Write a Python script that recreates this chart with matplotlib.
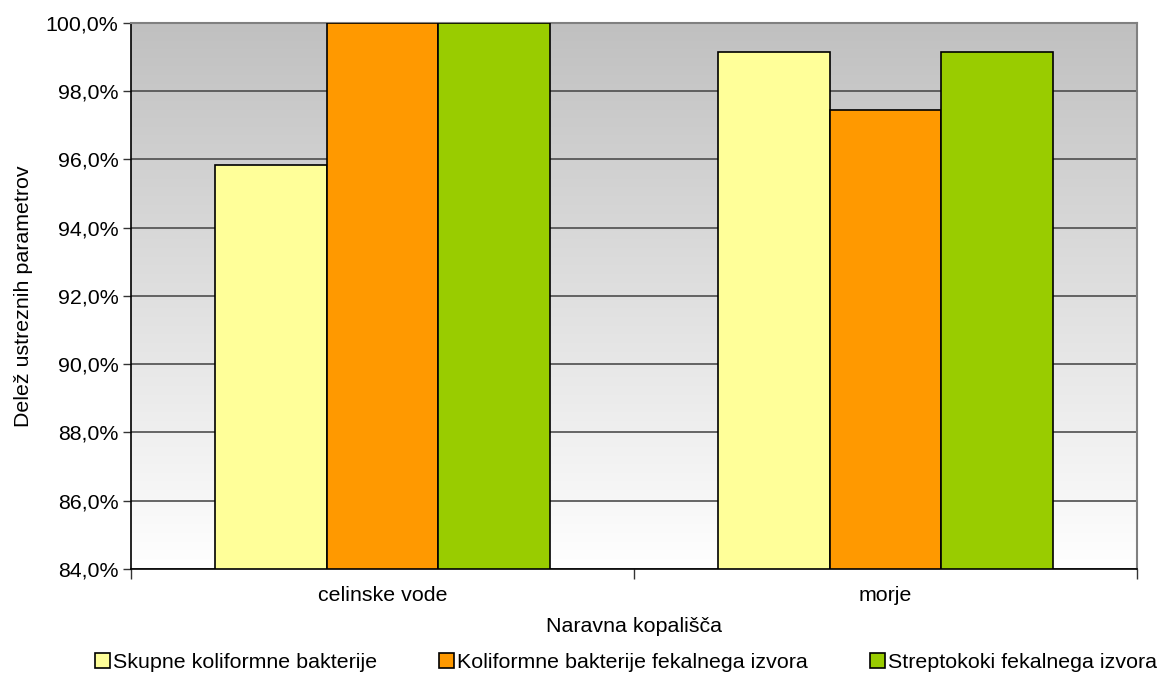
import matplotlib
matplotlib.use("Agg")
import matplotlib.pyplot as plt
import numpy as np
from matplotlib.ticker import FuncFormatter

plt.rcParams["font.family"] = ["Liberation Sans", "DejaVu Sans"]

# ---- Data ----
categories = ["celinske vode", "morje"]
series_names = ["Skupne koliformne bakterije",
                "Koliformne bakterije fekalnega izvora",
                "Streptokoki fekalnega izvora"]
values = [
    [95.83, 99.15],   # Skupne koliformne bakterije
    [100.0, 97.44],   # Koliformne bakterije fekalnega izvora
    [100.0, 99.15],   # Streptokoki fekalnega izvora
]
colors = ["#FFFF99", "#FF9900", "#99CC00"]
yticks = np.arange(84, 100.1, 2)

FS = 15.4

# ---- Plot ----
fig = plt.figure(figsize=(11.57, 6.74), dpi=100)
ax = fig.add_axes([0.1132, 0.1558, 0.8695, 0.8101])

# gradient background (grey top -> white bottom)
grad = np.linspace(192, 255, 256).reshape(-1, 1) / 255.0
ax.imshow(np.dstack([grad, grad, grad]), extent=[0, 1, 0, 1], transform=ax.transAxes,
          aspect="auto", origin="upper", zorder=-1)

centers = np.arange(len(categories)) + 0.5
w = 0.222
for i, (name, vals) in enumerate(zip(series_names, values)):
    ax.bar(centers + (i - 1) * w, np.array(vals) - 84, bottom=84, width=w,
           color=colors[i], edgecolor="black", linewidth=1.2, label=name, zorder=3)

ax.set_xlim(0, 2)
ax.set_ylim(84, 100)
ax.set_yticks(yticks)
ax.yaxis.set_major_formatter(FuncFormatter(lambda v, p: f"{v:.1f}%".replace(".", ",")))
ax.yaxis.grid(True, color="#4d4d4d", linewidth=1.2, zorder=1)
ax.set_axisbelow(True)

ax.set_xticks([0, 1, 2])
ax.set_xticklabels([])
ax.set_xticks(centers, minor=True)
ax.set_xticklabels(categories, minor=True)
ax.tick_params(axis="x", which="major", direction="out", length=7, width=1, color="#333333")
ax.tick_params(axis="x", which="minor", length=0, pad=12, labelsize=FS)
ax.tick_params(axis="y", direction="out", length=6, width=1, color="#333333",
               labelsize=FS, pad=3)

for s in ["top", "right"]:
    ax.spines[s].set_color("#808080")
    ax.spines[s].set_linewidth(1.5)
for s in ["left", "bottom"]:
    ax.spines[s].set_color("black")
    ax.spines[s].set_linewidth(1.2)

ax.set_xlabel("Naravna kopališča", fontsize=FS, labelpad=9)
ax.set_ylabel("Delež ustreznih parametrov", fontsize=FS, labelpad=9)

fig.legend(loc="center", bbox_to_anchor=(95 / 1157, 0.0, 1062 / 1157, 0.034),
           mode="expand", ncol=3, frameon=False, borderpad=0, borderaxespad=0,
           fontsize=FS, handlelength=0.7, handleheight=0.7, handletextpad=0.12)

fig.savefig("out.png", dpi=100, facecolor="white")
